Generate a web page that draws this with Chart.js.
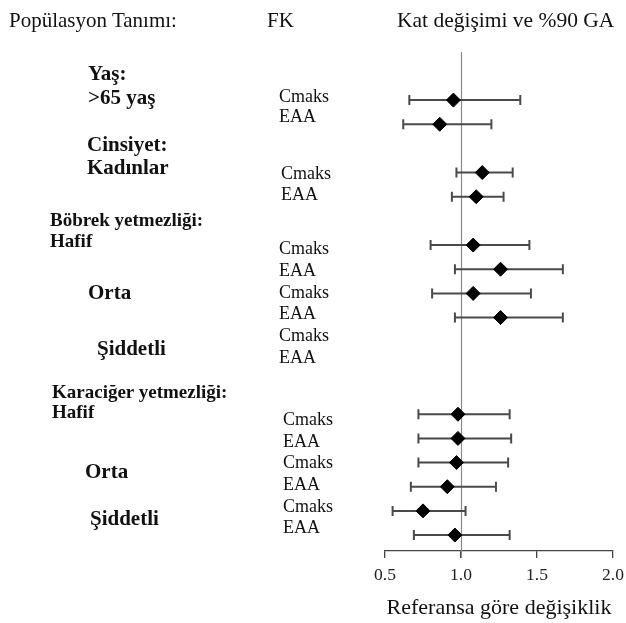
<!DOCTYPE html>
<html>
<head>
<meta charset="utf-8">
<script src="https://cdn.jsdelivr.net/npm/chart.js@4.4.1/dist/chart.umd.min.js"></script>
<style>
  html, body { margin: 0; padding: 0; background: #fff; }
  #wrap { position: relative; width: 626px; height: 623px; overflow: hidden; }
  #c { position: absolute; left: 0; top: 0; }
  .t { position: absolute; font-family: "Liberation Serif", "Times New Roman", serif; color: #111; line-height: 1; white-space: nowrap; }
  .b { font-weight: bold; }
</style>
</head>
<body>
<div id="wrap">
  <canvas id="c" width="626" height="623"></canvas>
</div>
<script>
// ---- data ----
// row index of each estimate (top to bottom)
const rows      = [0, 1, 3, 4, 6, 7, 8, 9, 13, 14, 15, 16, 17, 18];
const pkParams  = ['Cmaks','EAA','Cmaks','EAA','Cmaks','EAA','Cmaks','EAA','Cmaks','EAA','Cmaks','EAA','Cmaks','EAA'];
const ratio     = [0.95, 0.86, 1.14, 1.10, 1.08, 1.26, 1.08, 1.26, 0.98, 0.98, 0.97, 0.91, 0.75, 0.96];
const ciLow     = [0.66, 0.62, 0.97, 0.94, 0.80, 0.96, 0.81, 0.96, 0.72, 0.72, 0.72, 0.67, 0.55, 0.69];
const ciHigh    = [1.39, 1.20, 1.34, 1.28, 1.45, 1.67, 1.46, 1.67, 1.32, 1.33, 1.31, 1.23, 1.03, 1.32];
const xTicks    = [0.5, 1.0, 1.5, 2.0];
const refValue  = 1.0;

// ---- text layout (labels as real text) ----
const SERIF = '"Liberation Serif", "Times New Roman", serif';
const labels = [
  // header
  {t:'Popülasyon Tanımı:', x:9,   bl:28, s:21,   b:false},
  {t:'FK',                 x:267, bl:28, s:21,   b:false},
  {t:'Kat değişimi ve %90 GA', x:397, bl:28, s:21.5, b:false},
  // groups
  {t:'Yaş:',        x:88, bl:81,  s:21, b:true},
  {t:'>65 yaş',     x:88, bl:105, s:21, b:true},
  {t:'Cinsiyet:',   x:87, bl:152, s:21, b:true},
  {t:'Kadınlar',    x:87, bl:175, s:21, b:true},
  {t:'Böbrek yetmezliği:', x:50, bl:226, s:19, b:true},
  {t:'Hafif',       x:50, bl:247, s:19, b:true},
  {t:'Orta',        x:88, bl:300, s:21, b:true},
  {t:'Şiddetli',    x:97, bl:356, s:21, b:true},
  {t:'Karaciğer yetmezliği:', x:52, bl:398, s:19, b:true},
  {t:'Hafif',       x:52, bl:418, s:19, b:true},
  {t:'Orta',        x:85, bl:479, s:21, b:true},
  {t:'Şiddetli',    x:90, bl:526, s:21, b:true},
  // PK parameters
  {t:'Cmaks', x:279, bl:102, s:18, b:false},
  {t:'EAA',   x:279, bl:122, s:18, b:false},
  {t:'Cmaks', x:281, bl:179, s:18, b:false},
  {t:'EAA',   x:281, bl:200, s:18, b:false},
  {t:'Cmaks', x:279, bl:254, s:18, b:false},
  {t:'EAA',   x:279, bl:276, s:18, b:false},
  {t:'Cmaks', x:279, bl:298, s:18, b:false},
  {t:'EAA',   x:279, bl:319, s:18, b:false},
  {t:'Cmaks', x:279, bl:341, s:18, b:false},
  {t:'EAA',   x:279, bl:363, s:18, b:false},
  {t:'Cmaks', x:283, bl:425, s:18, b:false},
  {t:'EAA',   x:283, bl:447, s:18, b:false},
  {t:'Cmaks', x:283, bl:468, s:18, b:false},
  {t:'EAA',   x:283, bl:490, s:18, b:false},
  {t:'Cmaks', x:283, bl:512, s:18, b:false},
  {t:'EAA',   x:283, bl:533, s:18, b:false}
];
const wrap = document.getElementById('wrap');
labels.forEach(l => {
  const d = document.createElement('div');
  d.className = 't' + (l.b ? ' b' : '');
  d.textContent = l.t;
  d.style.fontSize = l.s + 'px';
  d.style.left = l.x + 'px';
  d.style.top = (l.bl - 0.8375 * l.s) + 'px';
  wrap.appendChild(d);
});

// ---- plugin: error bars + reference line ----
const forestPlugin = {
  id: 'forest',
  beforeDatasetsDraw(chart) {
    const {ctx, scales: {x, y}, chartArea} = chart;
    ctx.save();
    // reference line at 1.0
    const rx = Math.round(x.getPixelForValue(refValue)) + 0.5;
    ctx.strokeStyle = '#8a8a8a';
    ctx.lineWidth = 1.2;
    ctx.beginPath();
    ctx.moveTo(rx, chartArea.top);
    ctx.lineTo(rx, chartArea.bottom + 7);
    ctx.stroke();
    // error bars
    ctx.strokeStyle = '#4a4a4a';
    ctx.lineWidth = 2;
    const cap = 5;
    rows.forEach((r, i) => {
      const py = y.getPixelForValue(r);
      const x1 = x.getPixelForValue(ciLow[i]);
      const x2 = x.getPixelForValue(ciHigh[i]);
      ctx.beginPath();
      ctx.moveTo(x1, py); ctx.lineTo(x2, py);
      ctx.moveTo(x1, py - cap); ctx.lineTo(x1, py + cap);
      ctx.moveTo(x2, py - cap); ctx.lineTo(x2, py + cap);
      ctx.stroke();
    });
    ctx.restore();
  }
};

new Chart(document.getElementById('c'), {
  type: 'scatter',
  data: {
    datasets: [{
      label: 'Kat değişimi',
      data: rows.map((r, i) => ({x: ratio[i], y: r, p: pkParams[i]})),
      pointStyle: 'rectRot',
      pointRadius: 7,
      pointHoverRadius: 7,
      backgroundColor: '#000',
      borderColor: '#000',
      borderWidth: 1
    }]
  },
  options: {
    responsive: false,
    animation: false,
    events: [],
    layout: { padding: { left: 385, right: 13, top: 52, bottom: 2 } },
    plugins: { legend: { display: false }, tooltip: { enabled: false } },
    scales: {
      x: {
        type: 'linear',
        min: 0.5, max: 2.0,
        afterBuildTicks: (s) => { s.ticks = xTicks.map(v => ({value: v})); },
        afterFit: (s) => { s.paddingLeft = 0; s.paddingRight = 0; s.height = 70; },
        ticks: {
          callback: (v) => Number(v).toFixed(1),
          font: { family: SERIF, size: 17.5 },
          color: '#222',
          padding: 7,
          maxRotation: 0
        },
        grid: { drawOnChartArea: false, drawTicks: true, tickLength: 7, color: '#444', lineWidth: 1.3 },
        border: { color: '#444', width: 1.3 },
        title: {
          display: true,
          text: 'Referansa göre değişiklik',
          font: { family: SERIF, size: 22 },
          color: '#111',
          padding: { top: 7, bottom: 0 }
        }
      },
      y: {
        type: 'linear',
        reverse: true,
        min: -1.99, max: 18.66,
        display: false
      }
    }
  },
  plugins: [forestPlugin]
});
</script>
</body>
</html>
